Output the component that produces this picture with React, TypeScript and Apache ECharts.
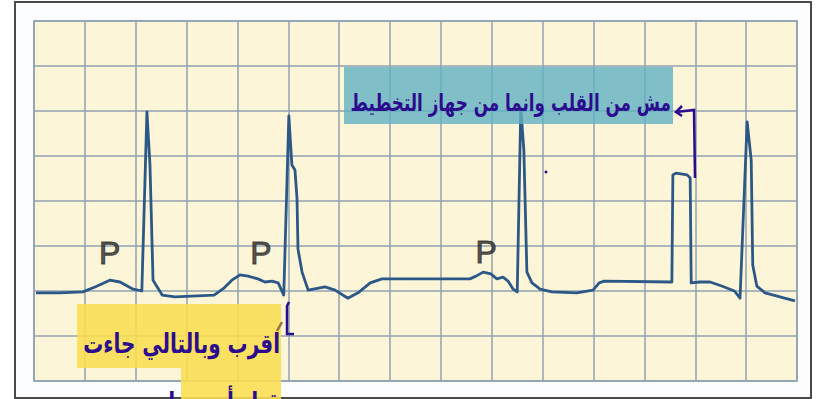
import React, { useEffect, useRef } from "react";
import * as echarts from "echarts";

// ECG trace, in grid squares (x: 0..15 large squares, y: 0..8 large squares)
const ecgX = [
  0.04, 0.51, 0.96, 1.2, 1.49, 1.69, 1.95, 2.12, 2.22, 2.28, 2.34, 2.52, 2.77, 3.54, 3.74, 3.89, 4.05, 4.21, 4.4, 4.54, 4.68, 4.8, 4.91, 5.01,
  5.07, 5.13, 5.17, 5.19, 5.27, 5.39, 5.72, 5.92, 6.17, 6.37, 6.61, 6.84, 8.57, 8.69, 8.83, 8.98, 9.1, 9.22, 9.32, 9.42, 9.5,
  9.57, 9.63, 9.69, 9.79, 9.95, 10.18, 10.67, 10.99, 11.11, 11.21, 12.54, 12.56, 12.62, 12.84, 12.9, 12.92, 13.09, 13.29, 13.52,
  13.77, 13.88, 14.02, 14.1, 14.13, 14.21, 14.37, 14.96,
];
const ecgY = [
  1.96, 1.96, 1.98, 2.09, 2.24, 2.2, 2.04, 2.0, 5.98, 4.8, 2.24, 1.91, 1.87, 1.91, 2.07, 2.24, 2.36, 2.33, 2.27, 2.2, 2.22, 2.18, 1.91, 5.89,
  4.8, 4.69, 4.07, 2.93, 2.42, 2.02, 2.09, 2.02, 1.84, 1.96, 2.18, 2.27, 2.27, 2.33, 2.42, 2.38, 2.27, 2.31, 2.22, 2.04, 1.98,
  6.07, 5.13, 2.42, 2.18, 2.04, 1.98, 1.96, 2.02, 2.18, 2.22, 2.2, 4.58, 4.62, 4.58, 4.51, 2.18, 2.2, 2.2, 2.11,
  2.0, 1.84, 5.76, 4.91, 2.58, 2.11, 1.96, 1.78,
];

// P wave labels
const pLabelX = [1.49, 4.46, 8.89];
const pLabelY = [2.84, 2.84, 2.87];
const pText = "P";

// Annotation texts
const noteTop = "مش من القلب وانما من جهاز التخطيط";
const noteBottom1 = "اقرب وبالتالي جاءت";
const noteBottom2 = "قبل أن يصل";

const xTicks = { min: 0, max: 15, interval: 1 };
const yTicks = { min: 0, max: 8, interval: 1 };

export default function App() {
  const ref = useRef<HTMLDivElement>(null);
  useEffect(() => {
    if (!ref.current) return;
    const chart = echarts.init(ref.current, undefined, { renderer: "svg" });
    const ink = "#2c0c8e";
    const gridColor = "#8fa2b2";
    chart.setOption({
      animation: false,
      backgroundColor: "transparent",
      grid: {
        left: 34,
        top: 21,
        width: 763,
        height: 360,
        show: true,
        backgroundColor: "#fdf5d8",
        borderColor: gridColor,
        borderWidth: 1.5,
      },
      xAxis: {
        type: "value",
        ...xTicks,
        axisLine: { show: false },
        axisTick: { show: false },
        axisLabel: { show: false },
        splitLine: { show: true, lineStyle: { color: gridColor, width: 1.5 } },
      },
      yAxis: {
        type: "value",
        ...yTicks,
        axisLine: { show: false },
        axisTick: { show: false },
        axisLabel: { show: false },
        splitLine: { show: true, lineStyle: { color: gridColor, width: 1.5 } },
      },
      series: [
        {
          type: "line",
          data: ecgX.map((x, i) => [x, ecgY[i]]),
          symbol: "none",
          smooth: false,
          lineStyle: { color: "#2b5887", width: 2.8, join: "round" },
          z: 3,
        },
        {
          type: "scatter",
          data: pLabelX.map((x, i) => [x, pLabelY[i]]),
          symbolSize: 0,
          label: {
            show: true,
            position: "inside",
            formatter: pText,
            fontFamily: "Liberation Sans",
            fontSize: 32,
            color: "#2a2a2a",
            textBorderColor: "#2a2a2a",
            textBorderWidth: 1,
          },
          z: 4,
        },
      ],
      graphic: [
        {
          type: "rect",
          z: 100,
          shape: { x: 344, y: 67, width: 329, height: 57 },
          style: { fill: "rgba(96,178,196,0.8)" },
        },
        {
          type: "text",
          z: 101,
          x: 671,
          y: 103,
          scaleX: 0.7,
          style: {
            text: noteTop,
            fill: ink,
            font: "bold 24px 'DejaVu Sans'",
            align: "right",
            verticalAlign: "middle",
          },
        },
        {
          type: "polyline",
          z: 101,
          shape: { points: [[676, 112], [694, 110], [695, 178]] },
          style: { stroke: ink, lineWidth: 2.5, fill: null },
        },
        {
          type: "polyline",
          z: 101,
          shape: { points: [[682, 106], [676, 112], [682, 116]] },
          style: { stroke: ink, lineWidth: 2.5, fill: null },
        },
        {
          type: "circle",
          z: 101,
          shape: { cx: 546, cy: 172, r: 1.5 },
          style: { fill: ink },
        },
        {
          type: "rect",
          z: 100,
          shape: { x: 77, y: 304, width: 204, height: 64 },
          style: { fill: "rgba(250,222,80,0.88)" },
        },
        {
          type: "rect",
          z: 100,
          shape: { x: 181, y: 368, width: 100, height: 31 },
          style: { fill: "rgba(250,222,80,0.88)" },
        },
        {
          type: "text",
          z: 101,
          x: 280,
          y: 344,
          scaleX: 0.74,
          style: {
            text: noteBottom1,
            fill: ink,
            font: "bold 27px 'DejaVu Sans'",
            align: "right",
            verticalAlign: "middle",
          },
        },
        {
          type: "text",
          z: 101,
          x: 280,
          y: 403,
          scaleX: 0.74,
          style: {
            text: noteBottom2,
            fill: ink,
            font: "bold 27px 'DejaVu Sans'",
            align: "right",
            verticalAlign: "middle",
          },
        },
        {
          type: "polyline",
          z: 101,
          shape: { points: [[289, 302], [287, 306], [287, 334], [294, 334]] },
          style: { stroke: ink, lineWidth: 2.5, fill: null },
        },
        {
          type: "line",
          z: 101,
          shape: { x1: 282, y1: 322, x2: 277, y2: 331 },
          style: { stroke: "#9a7040", lineWidth: 2.5 },
        },
      ],
    });
    return () => chart.dispose();
  }, []);
  return (
    <div style={{ position: "absolute", left: 0, top: 0, width: 819, height: 399, background: "#ffffff" }}>
      <div
        style={{
          position: "absolute",
          left: 14,
          top: 1,
          width: 794,
          height: 394,
          border: "2px solid #4a4a4a",
          background: "#fbfdfe",
        }}
      />
      <div ref={ref} style={{ position: "absolute", left: 0, top: 0, width: 819, height: 399 }} />
    </div>
  );
}
